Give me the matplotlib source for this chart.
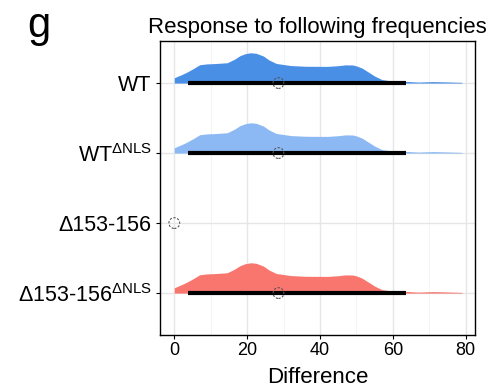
import numpy as np
import matplotlib.pyplot as plt

plt.rcParams['font.family'] = ['Liberation Sans', 'DejaVu Sans']
plt.rcParams['mathtext.fontset'] = 'custom'
plt.rcParams['mathtext.rm'] = 'Liberation Sans'
plt.rcParams['mathtext.it'] = 'Liberation Sans'

# groups, top to bottom
groups = ["WT", "WT$^{\\mathrm{ΔNLS}}$", "Δ153-156", "Δ153-156$^{\\mathrm{ΔNLS}}$"]
colors = ["#4a8fe6", "#8cb9f3", None, "#f8766d"]

# density (scaled)
dens_x = [0, 2, 3.5, 5, 7, 9, 11, 14.5, 16.5, 18, 19.5, 21, 22.5, 24.5, 26, 28, 32, 36, 42,
          45, 47, 49, 50, 51.5, 53.5, 55, 57, 59, 62, 67, 71, 75, 79]
dens_h = [0.076, 0.12, 0.157, 0.2, 0.262, 0.274, 0.278, 0.29, 0.34, 0.39, 0.42, 0.433, 0.425,
          0.385, 0.33, 0.28, 0.25, 0.24, 0.238, 0.248, 0.26, 0.258, 0.245, 0.215, 0.15,
          0.10, 0.05, 0.035, 0.028, 0.014, 0.021, 0.016, 0.010]
has_density = [True, True, False, True]

# median and interval
medians = [28.6, 28.6, 0, 28.6]
lo = [3.9, 3.9, 0, 3.9]
hi = [63.7, 63.7, 0, 63.7]

fig = plt.figure(figsize=(4.91, 3.91), dpi=100)
ax = fig.add_axes([0.326, 0.143, 0.641, 0.752])

pos = [4, 3, 2, 1]

for xv in [0, 20, 40, 60, 80]:
    ax.axvline(xv, color="#e6e6e6", lw=1.0, zorder=0)
for xv in [10, 30, 50, 70]:
    ax.axvline(xv, color="#f2f2f2", lw=0.6, zorder=0)
for p in pos:
    ax.axhline(p, color="#e6e6e6", lw=1.0, zorder=0)

for i, p in enumerate(pos):
    if has_density[i]:
        ax.fill_between(dens_x, p, p + np.array(dens_h), color=colors[i], lw=0, zorder=1)
    if hi[i] > lo[i]:
        ax.plot([lo[i], hi[i]], [p, p], color="black", lw=3.0, solid_capstyle="butt", zorder=2)
    ax.scatter([medians[i]], [p], s=60, facecolors="none", edgecolors="#555555",
               linewidths=0.8, linestyles=(0, (2.0, 1.5)), zorder=3)

ax.set_xlim(-3.9, 82.5)
ax.set_ylim(0.4, 4.6)
ax.set_xticks([0, 20, 40, 60, 80])
ax.set_yticks(pos)
ax.set_yticklabels(groups, fontsize=15.5)
ax.tick_params(axis="x", labelsize=13, length=3, width=0.8, pad=2)
ax.tick_params(axis="y", length=3, width=0.8, pad=3)
for s in ax.spines.values():
    s.set_linewidth(1.0)
ax.set_xlabel("Difference", fontsize=16, labelpad=6)
ax.set_title("Response to following frequencies", fontsize=16, pad=6)
fig.text(0.055, 0.985, "g", fontsize=30, va="top")

fig.savefig("out.png", dpi=100)
